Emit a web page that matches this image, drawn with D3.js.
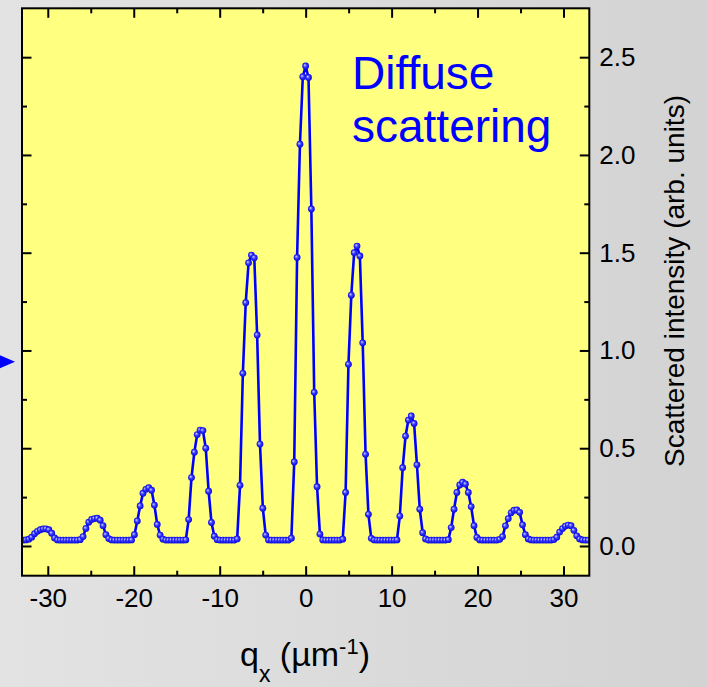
<!DOCTYPE html>
<html>
<head>
<meta charset="utf-8">
<script src="https://cdn.jsdelivr.net/npm/d3@7"></script>
<style>
  html, body { margin: 0; padding: 0; background: #dcdcdc; }
  svg { display: block; }
  text { font-family: "Liberation Sans", Arial, Helvetica, sans-serif; }
</style>
</head>
<body>
<script>
// ---- data ----
// sampling grid of q_x (µm^-1): first point and step
const qFirst = -32.868;
const qStep = 0.332;
// scattered intensity (arb. units) at each grid point
const intensity = [
  0.030, 0.031, 0.035, 0.045, 0.063, 0.075, 0.083, 0.087, 0.088, 0.083,
  0.065, 0.041, 0.031, 0.030, 0.030, 0.030, 0.030, 0.030, 0.030, 0.030,
  0.032, 0.048, 0.090, 0.122, 0.136, 0.140, 0.142, 0.132, 0.104, 0.058,
  0.038, 0.031, 0.030, 0.030, 0.030, 0.030, 0.030, 0.030, 0.031, 0.058,
  0.128, 0.205, 0.270, 0.290, 0.298, 0.285, 0.209, 0.110, 0.056, 0.035,
  0.030, 0.030, 0.030, 0.030, 0.030, 0.030, 0.030, 0.031, 0.135, 0.350,
  0.480, 0.570, 0.593, 0.590, 0.500, 0.280, 0.120, 0.050, 0.032, 0.030,
  0.030, 0.030, 0.030, 0.030, 0.030, 0.036, 0.310, 0.883, 1.244, 1.448,
  1.488, 1.474, 1.079, 0.521, 0.193, 0.056, 0.031, 0.030, 0.030, 0.030,
  0.030, 0.030, 0.030, 0.030, 0.040, 0.430, 1.476, 2.055, 2.400, 2.455,
  2.396, 1.724, 0.786, 0.303, 0.061, 0.031, 0.030, 0.030, 0.030, 0.030,
  0.030, 0.030, 0.035, 0.274, 0.929, 1.283, 1.500, 1.534, 1.483, 1.039,
  0.469, 0.162, 0.039, 0.031, 0.030, 0.030, 0.030, 0.030, 0.030, 0.030,
  0.030, 0.031, 0.153, 0.400, 0.562, 0.644, 0.665, 0.627, 0.415, 0.188,
  0.068, 0.036, 0.030, 0.030, 0.030, 0.030, 0.030, 0.030, 0.030, 0.032,
  0.094, 0.188, 0.274, 0.312, 0.326, 0.317, 0.274, 0.201, 0.104, 0.044,
  0.031, 0.030, 0.030, 0.030, 0.030, 0.030, 0.030, 0.034, 0.048, 0.103,
  0.140, 0.170, 0.183, 0.184, 0.172, 0.108, 0.058, 0.036, 0.031, 0.030,
  0.030, 0.030, 0.030, 0.030, 0.030, 0.030, 0.033, 0.045, 0.071, 0.089,
  0.102, 0.107, 0.104, 0.080, 0.052, 0.036, 0.031, 0.030, 0.030
];
const xTicks = [-30, -20, -10, 0, 10, 20, 30];
const xTickLabels = ["-30", "-20", "-10", "0", "10", "20", "30"];
const xMinorTicks = [-25, -15, -5, 5, 15, 25];
const yTicks = [0.0, 0.5, 1.0, 1.5, 2.0, 2.5];
const yTickLabels = ["0.0", "0.5", "1.0", "1.5", "2.0", "2.5"];
const yMinorTicks = [0.25, 0.75, 1.25, 1.75, 2.25];
const annotation = ["Diffuse", "scattering"];
const yTitle = "Scattered intensity (arb. units)";

const data = intensity.map((v, i) => ({ q: qFirst + i * qStep, v }));

// ---- layout ----
const W = 707, H = 687;
const L = 22, R = 589.3, T = 8.3, B = 575.7;

const svg = d3.select("body").append("svg").attr("width", W).attr("height", H);
const defs = svg.append("defs");

const bg = defs.append("linearGradient").attr("id", "bg").attr("x1", "0").attr("x2", "1").attr("y1", "0").attr("y2", "0");
bg.append("stop").attr("offset", "0%").attr("stop-color", "#e3e3e3");
bg.append("stop").attr("offset", "100%").attr("stop-color", "#d3d3d3");

const ball = defs.append("radialGradient").attr("id", "ball").attr("cx", "0.5").attr("cy", "0.5").attr("r", "0.55").attr("fx", "0.35").attr("fy", "0.35");
ball.append("stop").attr("offset", "0%").attr("stop-color", "#d8d8ff");
ball.append("stop").attr("offset", "45%").attr("stop-color", "#3a3aff");
ball.append("stop").attr("offset", "100%").attr("stop-color", "#0000d8");

defs.append("clipPath").attr("id", "clip").append("rect")
  .attr("x", L).attr("y", T).attr("width", R - L).attr("height", B - T);

svg.append("rect").attr("width", W).attr("height", H).attr("fill", "url(#bg)");

// plot area
svg.append("rect").attr("x", L).attr("y", T).attr("width", R - L).attr("height", B - T)
  .attr("fill", "#ffff80");

const x = d3.scaleLinear().domain([-33, 33]).range([L, R]);
const y = d3.scaleLinear().domain([-0.152, 2.75]).range([B, T]);

// arrow at left edge (from neighbouring panel)
svg.append("path").attr("d", "M-2,354.5 L15,361.7 L-2,369 Z").attr("fill", "#0000ff");

const font = "Liberation Sans, Arial, sans-serif";

function styleAxis(g) {
  g.select(".domain").remove();
  g.selectAll(".tick line").attr("stroke", "#000").attr("stroke-width", 2);
}

// bottom axis
svg.append("g").attr("transform", `translate(0,${B})`)
  .call(d3.axisBottom(x).tickValues(xTicks).tickSize(-9.5).tickPadding(12.5)
    .tickFormat((d, i) => xTickLabels[i]))
  .call(styleAxis)
  .call(g => g.selectAll("text").attr("font-size", 26).attr("fill", "#000").attr("font-family", font));
svg.append("g").attr("transform", `translate(0,${B})`)
  .call(d3.axisBottom(x).tickValues(xMinorTicks).tickSize(-5).tickFormat(""))
  .call(styleAxis);
// top axis
svg.append("g").attr("transform", `translate(0,${T})`)
  .call(d3.axisTop(x).tickValues(xTicks).tickSize(-9.5).tickFormat(""))
  .call(styleAxis);
svg.append("g").attr("transform", `translate(0,${T})`)
  .call(d3.axisTop(x).tickValues(xMinorTicks).tickSize(-5).tickFormat(""))
  .call(styleAxis);
// left axis
svg.append("g").attr("transform", `translate(${L},0)`)
  .call(d3.axisLeft(y).tickValues(yTicks).tickSize(-9.5).tickFormat(""))
  .call(styleAxis);
svg.append("g").attr("transform", `translate(${L},0)`)
  .call(d3.axisLeft(y).tickValues(yMinorTicks).tickSize(-5).tickFormat(""))
  .call(styleAxis);
// right axis
svg.append("g").attr("transform", `translate(${R},0)`)
  .call(d3.axisRight(y).tickValues(yTicks).tickSize(-9.5).tickPadding(10)
    .tickFormat((d, i) => yTickLabels[i]))
  .call(styleAxis)
  .call(g => g.selectAll("text").attr("font-size", 26).attr("fill", "#000").attr("font-family", font));
svg.append("g").attr("transform", `translate(${R},0)`)
  .call(d3.axisRight(y).tickValues(yMinorTicks).tickSize(-5).tickFormat(""))
  .call(styleAxis);

// data
const plot = svg.append("g").attr("clip-path", "url(#clip)");
const line = d3.line().x(d => x(d.q)).y(d => y(d.v));
plot.append("path").datum(data).attr("d", line)
  .attr("fill", "none").attr("stroke", "#0000ff").attr("stroke-width", 2.6)
  .attr("stroke-linejoin", "round");
plot.selectAll("circle").data(data).join("circle")
  .attr("cx", d => x(d.q)).attr("cy", d => y(d.v)).attr("r", 3.4)
  .attr("fill", "url(#ball)");

// frame
svg.append("rect").attr("x", L).attr("y", T).attr("width", R - L).attr("height", B - T)
  .attr("fill", "none").attr("stroke", "#000").attr("stroke-width", 2);

// annotation
const ann = svg.append("text").attr("font-size", 46).attr("fill", "#0000ff").attr("font-family", font);
ann.append("tspan").attr("x", 352).attr("y", 88.5).text(annotation[0]);
ann.append("tspan").attr("x", 352).attr("y", 142).text(annotation[1]);

// y title (right)
svg.append("text").attr("transform", "translate(683.5,281) rotate(-90)")
  .attr("text-anchor", "middle").attr("font-size", 28).attr("fill", "#000")
  .attr("font-family", font).text(yTitle);

// x title
const xt = svg.append("text").attr("x", 240).attr("y", 666)
  .attr("font-size", 34).attr("fill", "#000").attr("font-family", font);
xt.append("tspan").text("q");
xt.append("tspan").attr("font-size", 23).attr("dy", 16).text("x");
xt.append("tspan").attr("dy", -16).text(" (\u00b5m");
xt.append("tspan").attr("font-size", 22).attr("dy", -12).text("-1");
xt.append("tspan").attr("dy", 12).text(")");
</script>
</body>
</html>
